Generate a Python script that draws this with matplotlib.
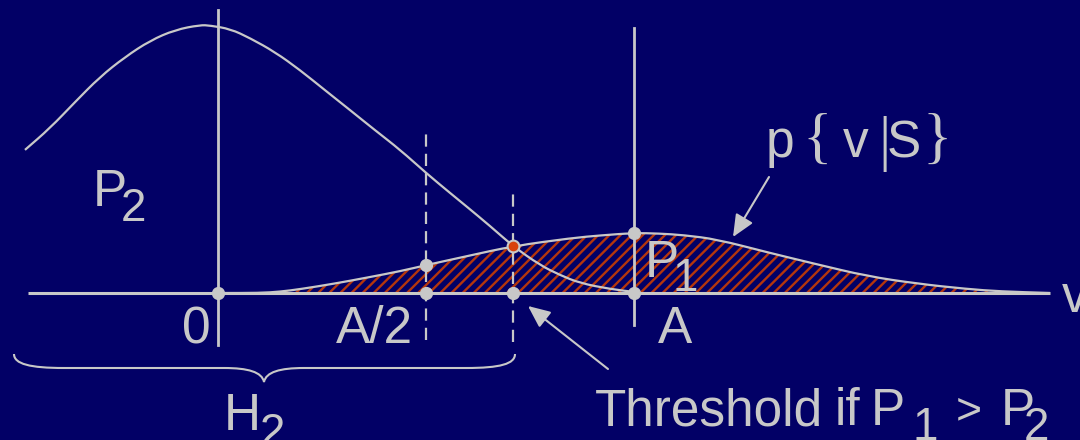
import numpy as np
import matplotlib
import matplotlib.pyplot as plt
import matplotlib.transforms as mtransforms
from matplotlib.patches import FancyArrowPatch, PathPatch
from matplotlib.path import Path

# v in units of A, densities scaled so that the peak of p{v|H2} is 1
big_v = [-0.464, -0.404, -0.344, -0.284, -0.224, -0.163, -0.103, -0.043, -0.019,
         0.030, 0.077, 0.137, 0.197, 0.257, 0.317, 0.377, 0.438, 0.500, 0.558,
         0.599, 0.654, 0.709, 0.774, 0.822, 0.870, 0.942, 1.000]
big_p = [0.534, 0.615, 0.712, 0.806, 0.880, 0.942, 0.982, 1.000, 0.998,
         0.985, 0.951, 0.899, 0.832, 0.757, 0.683, 0.608, 0.534, 0.448, 0.373,
         0.321, 0.250, 0.175, 0.104, 0.067, 0.037, 0.015, 0.004]

small_v = [0.0, 0.10, 0.15, 0.20, 0.28, 0.36, 0.44, 0.50, 0.60, 0.709, 0.85,
           0.92, 1.00, 1.06, 1.12, 1.20, 1.32, 1.44, 1.56, 1.68, 1.80, 1.88, 2.00]
small_p = [0.0, 0.0, 0.005, 0.015, 0.035, 0.058, 0.082, 0.104, 0.138, 0.175, 0.205,
           0.215, 0.224, 0.222, 0.216, 0.200, 0.152, 0.107, 0.063, 0.035, 0.015, 0.006, 0.0]

threshold = 0.709
axis_v = [-0.457, 2.0]
dot_v = [0.0, 0.5, threshold, 1.0]
curve_dot_v = [0.5, 1.0]

BG = '#020066'
FG = '#c8c8c8'
HATCH = '#b4360c'
RED = '#d8420c'
W, H = 1080, 440

plt.rcParams['hatch.linewidth'] = 1.7
fig = plt.figure(figsize=(W / 100, H / 100), dpi=100, facecolor=BG)
ax = fig.add_axes([0, 0, 1, 1])
ax.set_facecolor(BG)
ax.set_xlim(-218 / 416, 862 / 416)
ax.set_ylim(-147 / 268, 293 / 268)
ax.axis('off')

# pixel coordinates for annotations (y down)
pix = mtransforms.Affine2D().scale(1 / W, -1 / H).translate(0, 1) + fig.transFigure


def smooth(xs, ys):
    # quadratic bezier through midpoints, the read points act as control points
    pts = np.column_stack([xs, ys])
    verts = [pts[0], (pts[0] + pts[1]) / 2]
    codes = [Path.MOVETO, Path.LINETO]
    for i in range(1, len(pts) - 1):
        verts += [pts[i], (pts[i] + pts[i + 1]) / 2]
        codes += [Path.CURVE3, Path.CURVE3]
    verts.append(pts[-1])
    codes.append(Path.LINETO)
    return verts, codes


# hatched area under p{v|S}
sv, sc = smooth(small_v, small_p)
fill = Path(sv + [(small_v[-1], 0), (small_v[0], 0), (small_v[0], 0)],
            sc + [Path.LINETO, Path.LINETO, Path.CLOSEPOLY])
ax.add_patch(PathPatch(fill, facecolor=BG, edgecolor=HATCH, hatch='///',
                       linewidth=0, zorder=1))

# axis and vertical lines
ax.plot(axis_v, [0, 0], color=FG, lw=2.2, zorder=3, solid_capstyle='butt')
ax.plot([0, 0], [-0.194, 1.056], color=FG, lw=2.0, zorder=3)
ax.plot([1, 1], [-0.119, 0.989], color=FG, lw=2.0, zorder=3)
ax.plot([0.5, 0.5], [-0.175, 0.616], color=FG, lw=1.6, ls=(0, (5.5, 3.2)), zorder=3)
ax.plot([threshold, threshold], [-0.183, 0.373], color=FG, lw=1.6,
        ls=(0, (5.5, 3.2)), zorder=3)

# curves
bv, bc = smooth(big_v, big_p)
ax.add_patch(PathPatch(Path(bv, bc), fill=False, edgecolor=FG, lw=1.6, zorder=4))
ax.add_patch(PathPatch(Path(sv, sc), fill=False, edgecolor=FG, lw=1.6, zorder=4))

# dots
ax.plot(dot_v, np.zeros(len(dot_v)), 'o', color=FG, ms=8.5, zorder=5)
ax.plot(curve_dot_v, np.interp(curve_dot_v, small_v, small_p), 'o', color=FG,
        ms=8.5, zorder=5)
ax.plot([threshold], np.interp([threshold], small_v, small_p), 'o', mfc=RED,
        mec=FG, mew=1.5, ms=8.5, zorder=6)

# brace under H2 region
verts = [(14, 354), (14, 364), (30, 368), (64, 368), (224, 368),
         (248, 368), (262, 372), (264, 382),
         (266, 372), (280, 368), (304, 368), (466, 368),
         (500, 368), (515, 364), (515, 354)]
codes = [Path.MOVETO, Path.CURVE4, Path.CURVE4, Path.CURVE4, Path.LINETO,
         Path.CURVE4, Path.CURVE4, Path.CURVE4,
         Path.CURVE4, Path.CURVE4, Path.CURVE4, Path.LINETO,
         Path.CURVE4, Path.CURVE4, Path.CURVE4]
fig.patches.append(PathPatch(Path(verts, codes), transform=pix, fill=False,
                             edgecolor=FG, lw=1.5))

# arrows
for tail, head in [((769, 177), (733, 237)), ((608, 369), (528, 306))]:
    fig.patches.append(FancyArrowPatch(tail, head, transform=pix,
                                       arrowstyle='-|>,head_length=0.45,head_width=0.2',
                                       mutation_scale=30, color=FG, lw=1.5,
                                       shrinkA=0, shrinkB=0))

SANS = ['Liberation Sans', 'DejaVu Sans']
SERIF = ['Liberation Serif', 'DejaVu Serif']
BIG, SUB = 37, 33


def label(x, y, s, size=BIG, ha='left', family=SANS):
    fig.text(x / W, 1 - y / H, s, transform=fig.transFigure, fontsize=size,
             color=FG, family=family, ha=ha, va='baseline', zorder=10)


label(93, 206, 'P')
label(121, 221, '2', SUB)
label(196, 343, '0', ha='center')
label(374, 343, 'A/2', ha='center')
label(675, 343, 'A', ha='center')
label(1062, 312, 'v')
label(645, 277, 'P')
label(673, 291, '1', SUB)
label(224, 430, 'H')
label(260, 446, '2', SUB)

label(766, 157, 'p')
label(802, 157, '{', 44, family=SERIF)
label(843, 157, 'v')
label(878, 159, '|', 44, family=SERIF)
label(887, 157, 'S')
label(922, 157, '}', 44, family=SERIF)

label(595, 425, 'Threshold')
label(835, 425, 'if')
label(871, 425, 'P')
label(912, 440, '1', SUB)
label(956, 423, '>', 32)
label(1001, 425, 'P')
label(1024, 440, '2', SUB)

fig.savefig('out.png', dpi=100, facecolor=BG)
